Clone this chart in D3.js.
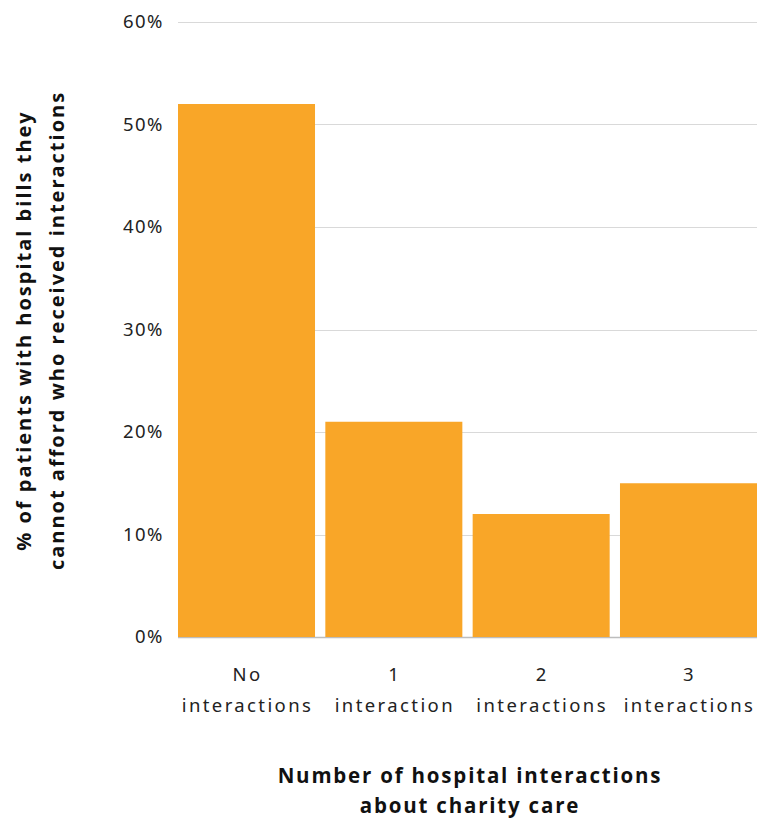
<!DOCTYPE html>
<html>
<head>
<meta charset="utf-8">
<script src="https://cdn.jsdelivr.net/npm/d3@7"></script>
<style>
  html, body { margin: 0; padding: 0; background: #fff; }
  svg { display: block; }
  .tick text { font-family: "Noto Sans", "Open Sans", sans-serif; fill: #222; }
</style>
</head>
<body>
<svg id="chart" width="760" height="818"></svg>
<script>
// Share of patients with unaffordable hospital bills, by number of interactions
const categories = ["No interactions", "1 interaction", "2 interactions", "3 interactions"];
const categoryLines = [["No", "interactions"], ["1", "interaction"], ["2", "interactions"], ["3", "interactions"]];
const values = [52, 21, 12, 15];
const yTicks = [0, 10, 20, 30, 40, 50, 60];
const yTitleLines = ["% of patients with hospital bills they", "cannot afford who received interactions"];
const xTitleLines = ["Number of hospital interactions", "about charity care"];

const svg = d3.select("#chart");
const margin = { left: 178, right: 3, top: 22, bottom: 181 };
const W = 760, H = 818;

const x = d3.scaleBand()
  .domain(categories)
  .range([margin.left, W - margin.right])
  .paddingInner(0.07)
  .paddingOuter(0);

const y = d3.scaleLinear()
  .domain([0, 60])
  .range([H - margin.bottom, margin.top]);

// Gridlines
svg.append("g")
  .selectAll("line")
  .data(yTicks)
  .join("line")
  .attr("x1", margin.left)
  .attr("x2", W - margin.right)
  .attr("y1", d => Math.round(y(d)) + 0.5)
  .attr("y2", d => Math.round(y(d)) + 0.5)
  .attr("stroke", d => d === 0 ? "#bdbdbd" : "#d9d9d9")
  .attr("stroke-width", d => d === 0 ? 1.5 : 1);

// Bars
svg.append("g")
  .selectAll("rect")
  .data(values)
  .join("rect")
  .attr("x", (d, i) => x(categories[i]))
  .attr("width", x.bandwidth())
  .attr("y", d => y(d))
  .attr("height", d => y(0) - y(d))
  .attr("fill", "#F9A628");

// Y axis labels
const yAxis = d3.axisLeft(y)
  .tickValues(yTicks)
  .tickFormat(d => d + "%")
  .tickSize(0)
  .tickPadding(14);
const gy = svg.append("g")
  .attr("transform", `translate(${margin.left},0)`)
  .call(yAxis);
gy.select(".domain").remove();
gy.selectAll(".tick text")
  .attr("font-size", 18.5)
  .attr("letter-spacing", "1.5px")
  .attr("font-weight", 400);

// X axis labels (two lines)
const xAxis = d3.axisBottom(x).tickSize(0).tickFormat("");
const gx = svg.append("g")
  .attr("transform", `translate(0,${y(0)})`)
  .call(xAxis);
gx.select(".domain").remove();
gx.selectAll(".tick").each(function(d, i) {
  const t = d3.select(this).append("text")
    .attr("text-anchor", "middle")
    .attr("font-size", 18.5)
    .attr("letter-spacing", "2.4px")
    .attr("fill", "#222");
  categoryLines[i].forEach((line, k) => {
    t.append("tspan")
      .attr("x", 1)
      .attr("y", 44 + k * 31)
      .text(line);
  });
});

// Y axis title
const yTitle = svg.append("text")
  .attr("transform", `translate(0,${(y(0) + y(60)) / 2 + 1}) rotate(-90)`)
  .attr("text-anchor", "middle")
  .attr("font-family", "'Open Sans', 'Noto Sans', sans-serif")
  .attr("font-weight", 700)
  .attr("font-size", 20)
  .attr("letter-spacing", "2px")
  .attr("fill", "#111");
yTitleLines.forEach((line, k) => {
  yTitle.append("tspan")
    .attr("x", 0)
    .attr("y", 31 + k * 33)
    .text(line);
});

// X axis title
const xTitle = svg.append("text")
  .attr("text-anchor", "middle")
  .attr("font-family", "'Open Sans', 'Noto Sans', sans-serif")
  .attr("font-weight", 700)
  .attr("font-size", 20.5)
  .attr("letter-spacing", "1.8px")
  .attr("fill", "#111");
xTitleLines.forEach((line, k) => {
  xTitle.append("tspan")
    .attr("x", 470)
    .attr("y", 783 + k * 30)
    .text(line);
});
</script>
</body>
</html>
